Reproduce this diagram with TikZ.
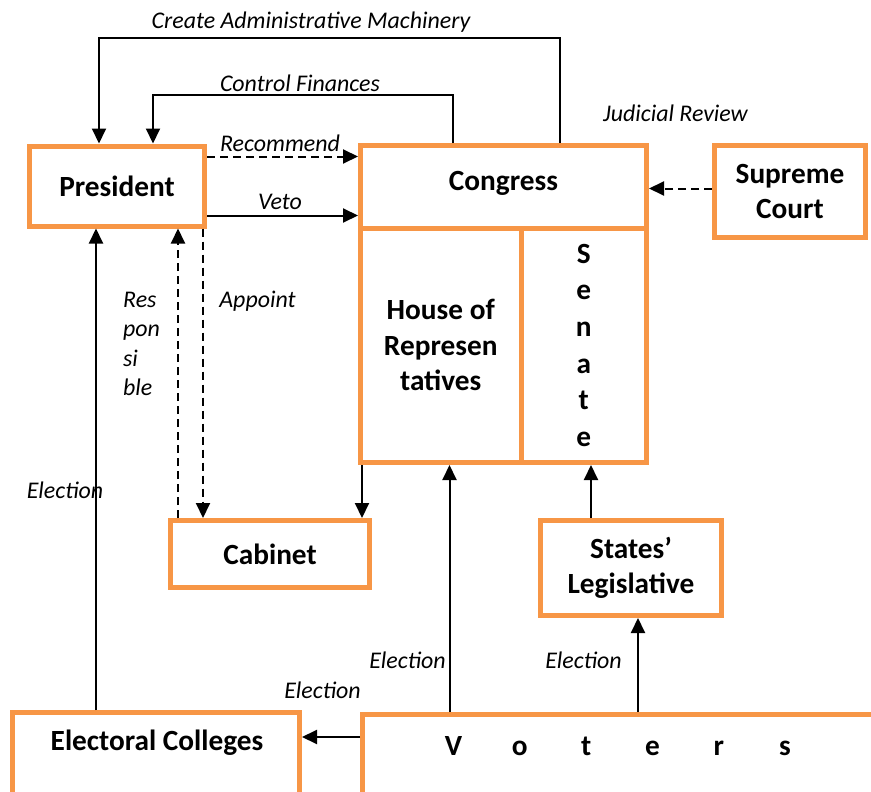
\documentclass[tikz,border=0pt]{standalone}
\usepackage{fontspec}
\setmainfont{Carlito}
\usetikzlibrary{arrows.meta}
\definecolor{boxorange}{HTML}{F79646}
\newcommand\bxfont{\bfseries\fontsize{29.3}{35.5}\selectfont}
\newcommand\lbfont{\itshape\fontsize{23.9}{29.5}\selectfont}

\begin{document}
\begin{tikzpicture}[x=1pt,y=-1pt,
  box/.style={draw=boxorange, line width=5pt, rectangle, inner sep=0pt, align=center, font=\bxfont},
  btxt/.style={inner sep=0pt, align=center, font=\bxfont},
  lbl/.style={inner sep=0pt, font=\lbfont, align=left},
  arr/.style={line width=2pt, -{Triangle[length=15pt,width=14pt]}},
  dasharr/.style={arr, dash pattern=on 8pt off 5pt},
]
\fill[white] (0,0) rectangle (871,792);
\useasboundingbox (0,0) rectangle (871,792);
\clip (0,0) rectangle (871,792);

% boxes (positions are centre lines of the orange borders)
\node[box, minimum width=175pt, minimum height=80pt] (president) at (117,186) {President};
\node[box, minimum width=286pt, minimum height=82.5pt] (congress) at (503.5,186.75) {};
\node[btxt] (congresstxt) at (503.5,183.5) {Congress};
\node[box, minimum width=160.5pt, minimum height=234.5pt] (house) at (440.75,345.25) {House of\\Represen\\tatives};
\node[box, minimum width=125.5pt, minimum height=234.5pt, font=\bfseries\fontsize{29.3}{36.6}\selectfont] (senate) at (583.75,345.25) {S\\e\\n\\a\\t\\e};
\node[box, minimum width=151pt, minimum height=92pt] (supreme) at (790,191.5) {Supreme\\Court};
\node[box, minimum width=199pt, minimum height=67pt] (cabinet) at (270,554) {Cabinet};
\node[box, minimum width=181pt, minimum height=95pt] (states) at (631,568) {States’\\Legislative};
\node[box, minimum width=537.5pt, minimum height=135.5pt] (voters) at (631.25,782.25) {};
\node[btxt] (voterstxt) at (619.3,746) {\makebox[66.3pt]{V}\makebox[66.3pt]{o}\makebox[66.3pt]{t}\makebox[66.3pt]{e}\makebox[66.3pt]{r}\makebox[66.3pt]{s}};
\node[box, minimum width=287pt, minimum height=137.5pt] (electoral) at (156,781.25) {};
\node[btxt] (electoraltxt) at (157,743) {Electoral Colleges};

% connectors
\draw[arr] ([xshift=202pt]congress.north west) -- ++(0,-105) -| ([xshift=72pt]president.north west);
\draw[arr] ([xshift=95pt]congress.north west) -- ++(0,-48) -| ([xshift=126pt]president.north west);
\draw[dasharr] ([yshift=29.5pt]president.east) coordinate (rec) -- (rec -| congress.west);
\draw[arr] ([yshift=-29.5pt]president.east) coordinate (vet) -- (vet -| congress.west);
\draw[dasharr] ([yshift=3pt]supreme.west) coordinate (jr) -- (jr -| congress.east);
\draw[arr] ([xshift=86pt]electoral.north west) coordinate (ep) -- (ep |- president.south);
\draw[dasharr] ([xshift=10pt]cabinet.north west) coordinate (rs) -- (rs |- president.south);
\draw[dasharr] ([xshift=-4pt]president.south east) coordinate (ap) -- (ap |- cabinet.north);
\draw[arr] ([xshift=4pt]house.south west) coordinate (hc) -- (hc |- cabinet.north);
\draw[arr] ([xshift=89.5pt]voters.north west) coordinate (vh) -- (vh |- house.south);
\draw[arr] ([xshift=53pt]states.north west) coordinate (ss) -- (ss |- senate.south);
\draw[arr] ([xshift=278pt]voters.north west) coordinate (vs) -- (vs |- states.south);
\draw[arr] ([yshift=-25pt]voters.north west) coordinate (ve) -- (ve -| electoral.east);

% connector labels
\node[lbl] (lcreate) at (311,22) {Create Administrative Machinery};
\node[lbl] (lcontrol) at (300,83) {Control Finances};
\node[lbl] (lrec) at (280,143) {Recommend};
\node[lbl] (lveto) at (280,202) {Veto};
\node[lbl] (ljud) at (675.5,113) {Judicial Review};
\node[lbl, anchor=west] (lresp) at (123,344) {Res\\pon\\si\\ble};
\node[lbl] (lapp) at (257.5,301) {Appoint};
\node[lbl] (lel1) at (65,490) {Election};
\node[lbl] (lel2) at (407.5,660) {Election};
\node[lbl] (lel3) at (583.5,660) {Election};
\node[lbl] (lel4) at (322.5,690) {Election};
\end{tikzpicture}
\end{document}
